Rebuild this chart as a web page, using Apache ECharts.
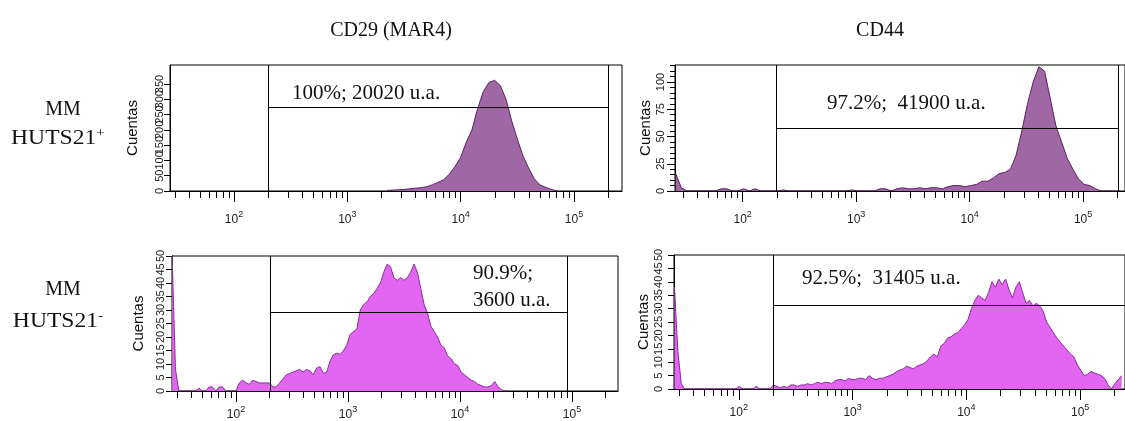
<!DOCTYPE html>
<html><head><meta charset="utf-8">
<script src="https://cdn.jsdelivr.net/npm/echarts@6/dist/echarts.min.js"></script>
<style>html,body{margin:0;padding:0;background:#fff}#c{width:1125px;height:421px}</style>
</head><body><div id="c"></div>
<script>
// ---------------- DATA ----------------
const columnTitles = ['CD29 (MAR4)', 'CD44'];
const rowNames = ['MM', 'MM'];
const rowCodes = ['HUTS21', 'HUTS21'];
const rowSigns = ['+', '-'];
const annotations = ['100%; 20020 u.a.', '97.2%;  41900 u.a.', '90.9%;\n3600 u.a.', '92.5%;  31405 u.a.'];
const yAxisName = 'Cuentas';

// x tick values (log10 of fluorescence)
const decadeExps = [2, 3, 4, 5];
const minorMultipliers = [2, 3, 4, 5, 6, 7, 8, 9];

// y tick labels
const yTicksTL = [0, 50, 100, 150, 200, 250, 300, 350, 400];
const yTicksTR = [0, 25, 50, 75, 100];
const yMinorTR = [0, 5, 10, 15, 20, 25, 30, 35, 40, 45, 50, 55, 60, 65, 70, 75, 80, 85, 90, 95, 100, 105, 110, 115];
const yTicksBottom = [0, 5, 10, 15, 20, 25, 30, 35, 40, 45, 50];

// histograms: channel start (log10), channel width (log10), counts
const tlStart = 3.35, tlStep = 0.05;
const tlCounts = [2, 3, 4, 5, 7, 9, 11, 14, 20, 28, 37, 55, 80, 110, 160, 200, 270, 325, 355, 362, 345, 300, 230, 170, 115, 75, 40, 20, 12, 5, 0];

const trStart = 1.41, trStep = 0.05;
const trCounts = [16, 3, 0, 0, 0, 0, 0, 0, 2, 2, 0, 0, 2, 0, 2, 0, 0, 0, 0, 1,
  0, 0, 0, 0, 0, 0, 0, 0, 0, 0, 0, 1, 0, 0, 0, 0, 2, 2, 0, 2,
  3, 2, 2, 3, 2, 3, 3, 2, 4, 5, 5, 4, 5, 6, 9, 9, 12, 16, 17, 20,
  33, 55, 80, 100, 114, 110, 85, 60, 45, 30, 20, 11, 6, 5, 2, 0, 0, 0, 0];

const blStart = 1.43, blStep = 0.03;
const blCounts = [50, 8, 0, 0, 0, 0, 0, 0, 1, 0, 0, 1.5, 1.5, 0, 1.5, 1.5, 0, 0, 0, 0,
  3, 4, 3, 2.5, 4, 3.5, 3, 3, 3, 3,
  1.5, 1.5, 3, 4.5, 6, 6.5, 7, 7.5, 8, 7,
  8, 7.5, 6, 8.5, 9, 6.5, 7, 11, 13.5, 14,
  13.5, 15, 17, 21, 22, 23, 30, 32, 33, 35,
  36, 38, 40, 44, 47, 46, 42, 41, 42, 41,
  42, 44, 47, 44, 38, 32, 29, 24, 22, 20,
  17, 16, 13, 12, 10, 9.5, 7, 6, 5, 4,
  3.5, 2.5, 2, 1.5, 1.5, 2, 3.5, 1.5, 0.5, 0, 0];

const brStart = 1.435, brStep = 0.03;
const brCounts = [38, 14, 2, 0, 0, 0, 0, 0, 0, 0, 0, 0, 0, 0, 0, 0, 0, 0, 0,
  1, 0, 0, 0, 0, 1, 0, 0, 0, 0,
  1.5, 1, 0.5, 1, 0.5, 1.5, 1.5, 1, 1.5, 1.5, 2, 1.5, 2, 2.5, 2, 2.5, 2.5, 2, 3, 3.5, 3.5, 3, 4, 3.5,
  3.5, 4, 4, 3.5, 5, 4, 3.5, 4, 4, 4.5, 5, 5.5, 6.5, 7, 7.5, 8.5, 8, 7.5, 8.5, 9, 9.5, 10.5, 12, 13, 12,
  16, 17, 19, 19.5, 20.5, 21, 22.5, 24, 26, 30, 33, 35, 34, 33, 36, 40, 38, 41, 39, 41, 37, 34, 38, 40,
  36, 32, 33, 31, 32, 31, 29, 25, 23, 21, 19, 17.5, 16, 14.5, 13, 12, 9, 7, 5, 5.5, 6.5, 6, 5.5, 5, 4,
  1.5, 0, 2, 3.5, 5];

// gates: [left edge, right edge (null = axis end), level]
const gateTL = [2.305, 5.30, 275];
const gateTR = [2.298, 5.307, 57.8];
const gateBL = [2.304, 4.96, 29.3];
const gateBR = [2.306, null, 31.3];

// ---------------- LAYOUT / STYLE ----------------
const SANS = 'Liberation Sans', SERIF = 'Liberation Serif';
const panels = [
  {grid:{left:170, top:65, width:452, height:126}, xMin:1.435, xMax:5.424, yMax:412,
   start:tlStart, step:tlStep, counts:tlCounts, gate:gateTL, fill:'#a067a5', line:'#5a2164',
   yTicks:yTicksTL, yMinor:null, nameGap:30, labelMargin:5, xMargin:19},
  {grid:{left:675, top:65, width:452, height:126}, xMin:1.404, xMax:5.369, yMax:115.6,
   start:trStart, step:trStep, counts:trCounts, gate:gateTR, fill:'#a067a5', line:'#5a2164',
   yTicks:yTicksTR, yMinor:yMinorTR, nameGap:22, labelMargin:9, xMargin:19},
  {grid:{left:172, top:256, width:446, height:135}, xMin:1.429, xMax:5.411, yMax:50,
   start:blStart, step:blStep, counts:blCounts, gate:gateBL, fill:'#e366f3', line:'#8a2c9c',
   yTicks:yTicksBottom, yMinor:null, nameGap:26, labelMargin:6, xMargin:14},
  {grid:{left:674, top:255, width:453, height:134}, xMin:1.431, xMax:5.394, yMax:50,
   start:brStart, step:brStep, counts:brCounts, gate:gateBR, fill:'#e366f3', line:'#8a2c9c',
   yTicks:yTicksBottom, yMinor:null, nameGap:23, labelMargin:10, xMargin:14}
];

function minorTicks(lo, hi) {
  const out = [];
  for (let n = 0; n <= 6; n++) for (const k of minorMultipliers) {
    const v = Math.log10(k) + n;
    if (v > lo && v < hi) out.push(v);
  }
  return out;
}

const grids = [], xAxes = [], yAxes = [], series = [];
panels.forEach((p, i) => {
  grids.push(Object.assign({show:true, borderColor:'#000', borderWidth:1, containLabel:false}, p.grid));
  const xi = xAxes.length;
  xAxes.push({type:'value', gridIndex:i, min:p.xMin, max:p.xMax, position:'bottom',
    axisLine:{show:true, onZero:false, lineStyle:{color:'#000', width:1}},
    axisTick:{show:true, customValues:minorTicks(p.xMin, p.xMax), length:7, lineStyle:{color:'#000', width:1}},
    axisLabel:{show:false}, splitLine:{show:false}});
  xAxes.push({type:'value', gridIndex:i, min:p.xMin, max:p.xMax, position:'bottom',
    axisLine:{show:false, onZero:false},
    axisTick:{show:true, customValues:decadeExps, length:11, lineStyle:{color:'#000', width:1}},
    axisLabel:{show:true, customValues:decadeExps, margin:p.xMargin,
      formatter: v => '{a|10}{b|' + Math.round(v) + '}',
      rich:{a:{fontFamily:SANS, fontSize:12, color:'#222', verticalAlign:'bottom'},
            b:{fontFamily:SANS, fontSize:9, color:'#222', verticalAlign:'bottom', padding:[0,0,7,0]}}},
    splitLine:{show:false}});
  const yi = yAxes.length;
  const labelStyle = {fontFamily:SANS, fontSize:11, color:'#222', rotate:90, margin:p.labelMargin};
  if (p.yMinor) {
    yAxes.push({type:'value', gridIndex:i, position:'left', min:0, max:p.yMax, name:yAxisName, nameLocation:'middle', nameGap:p.nameGap,
      nameTextStyle:{fontFamily:SANS, fontSize:15, color:'#111'},
      axisLine:{show:true, onZero:false, lineStyle:{color:'#000'}},
      axisTick:{show:true, customValues:p.yMinor, length:5, lineStyle:{color:'#000'}},
      axisLabel:{show:false}, splitLine:{show:false}});
    yAxes.push({type:'value', gridIndex:i, position:'left', offset:0, min:0, max:p.yMax,
      axisLine:{show:false, onZero:false},
      axisTick:{show:true, customValues:p.yTicks, length:8, lineStyle:{color:'#000'}},
      axisLabel:Object.assign({show:true, customValues:p.yTicks}, labelStyle), splitLine:{show:false}});
  } else {
    yAxes.push({type:'value', gridIndex:i, position:'left', min:0, max:p.yMax, name:yAxisName, nameLocation:'middle', nameGap:p.nameGap,
      nameTextStyle:{fontFamily:SANS, fontSize:15, color:'#111'},
      axisLine:{show:true, onZero:false, lineStyle:{color:'#000'}},
      axisTick:{show:true, customValues:p.yTicks, length:6, lineStyle:{color:'#000'}},
      axisLabel:Object.assign({show:true, customValues:p.yTicks}, labelStyle), splitLine:{show:false}});
  }
  const data = p.counts.map((c, j) => [p.start + j * p.step, c]);
  const g = p.gate, gr = g[1] === null ? p.xMax : g[1];
  const ml = [[{coord:[g[0], 0]}, {coord:[g[0], p.yMax]}],
              [{coord:[g[0], g[2]]}, {coord:[gr, g[2]]}]];
  if (g[1] !== null) ml.push([{coord:[g[1], 0]}, {coord:[g[1], p.yMax]}]);
  series.push({type:'line', xAxisIndex:xi, yAxisIndex:yi, data:data, symbol:'none', smooth:false,
    lineStyle:{color:p.line, width:1}, areaStyle:{color:p.fill, opacity:1}, z:2,
    markLine:{silent:true, symbol:['none','none'], label:{show:false}, animation:false,
      lineStyle:{color:'#000', width:1, type:'solid'}, emphasis:{disabled:true}, data:ml}});
});

function txt(x, y, text, size, align) {
  return {type:'text', x:x, y:y, z:100, style:{text:text, fontFamily:SERIF, fontSize:size,
    fill:'#111', align:align, textAlign:align, verticalAlign:'middle', textVerticalAlign:'middle'}};
}
function rowLabel(x, y, code, sign) {
  return {type:'text', x:x, y:y, z:100, scaleX:1.18, style:{text:'{m|' + code + '}{s|' + sign + '}', align:'center', textAlign:'center',
    verticalAlign:'middle', textVerticalAlign:'middle', fill:'#111',
    rich:{m:{fontFamily:SERIF, fontSize:20, fill:'#111', color:'#111', verticalAlign:'bottom'},
          s:{fontFamily:SERIF, fontSize:13, fill:'#111', color:'#111', verticalAlign:'bottom', padding:[0,0,9,0]}}}};
}

const graphics = [
  txt(391, 31, columnTitles[0], 20, 'center'),
  txt(880, 31, columnTitles[1], 20, 'center'),
  txt(63, 110, rowNames[0], 20, 'center'),
  rowLabel(58, 138, rowCodes[0], rowSigns[0]),
  txt(63, 290, rowNames[1], 20, 'center'),
  rowLabel(58, 321, rowCodes[1], rowSigns[1]),
  txt(292, 93, annotations[0], 21, 'left'),
  txt(827, 103, annotations[1], 21, 'left'),
  txt(473, 287, annotations[2], 21, 'left'),
  txt(802, 278, annotations[3], 21, 'left')
];
graphics[8].style.lineHeight = 27;

const chart = echarts.init(document.getElementById('c'), null, {renderer:'canvas'});
chart.setOption({
  animation:false, backgroundColor:'#fff',
  grid:grids, xAxis:xAxes, yAxis:yAxes, series:series, graphic:graphics
});
</script></body></html>
